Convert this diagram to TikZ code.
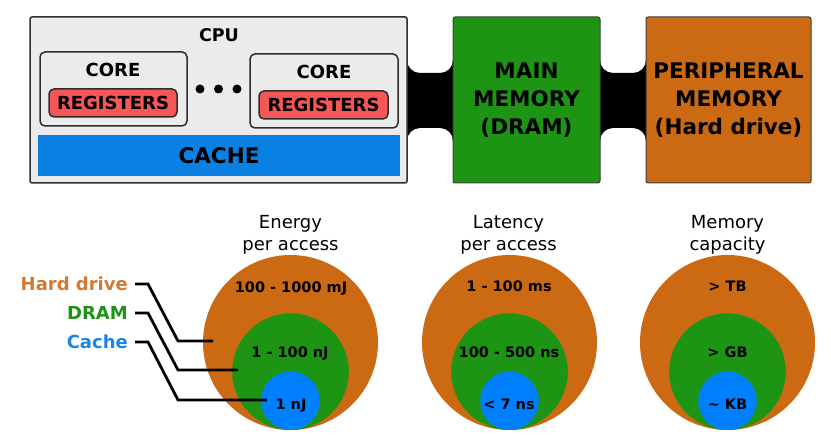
\documentclass[tikz,border=0pt]{standalone}
\usepackage{fontspec}
\setmainfont{DejaVu Sans}
\definecolor{cpugray}{HTML}{EBEBEB}
\definecolor{bord}{HTML}{2E2E2E}
\definecolor{regred}{HTML}{F55656}
\definecolor{cacheblue}{HTML}{0A80E2}
\definecolor{memgreen}{HTML}{1E9414}
\definecolor{periorange}{HTML}{CC6A14}
\definecolor{circblue}{HTML}{0080FF}
\definecolor{hdtext}{HTML}{D27A33}
\definecolor{cachetext}{HTML}{1A86E8}
\tikzset{
  bus/.style={fill=black},
  cpubox/.style={draw=bord, fill=cpugray, line width=1.5pt, rounded corners=2pt, inner sep=0pt},
  corebox/.style={draw=bord, fill=cpugray, line width=1.5pt, rounded corners=5pt, inner sep=0pt},
  regbox/.style={draw=bord, fill=regred, line width=1.5pt, rounded corners=5pt, inner sep=0pt,
     font=\fontsize{18}{22}\selectfont\bfseries},
  membox/.style={draw=black!75, line width=1pt, rounded corners=2pt, inner sep=0pt, align=center,
     font=\fontsize{21.5}{28}\selectfont\bfseries},
  lbl/.style={inner sep=0pt, font=\fontsize{18}{22}\selectfont\bfseries},
  title/.style={inner sep=0pt, align=center, font=\fontsize{18}{22}\selectfont},
  val/.style={inner sep=0pt, anchor=base, font=\fontsize{14.5}{17}\selectfont\bfseries},
  legend/.style={inner sep=0pt, anchor=east, font=\fontsize{18}{22}\selectfont\bfseries},
  leader/.style={line width=2.8pt, black},
  ring/.style={circle, inner sep=0pt, draw=none},
  dot/.style={circle, fill=black, inner sep=0pt, minimum size=9pt}
}
\begin{document}
\begin{tikzpicture}[x=1pt,y=-1pt]
\useasboundingbox (0,0) rectangle (831,443);

% buses
\fill[bus] (405,60) -- (407,60) arc[start angle=180,end angle=90,radius=13] -- ++(20,0)
  arc[start angle=90,end angle=0,radius=13] -- ++(2,0) -- ++(0,81) -- ++(-2,0)
  arc[start angle=0,end angle=-90,radius=13] -- ++(-20,0)
  arc[start angle=-90,end angle=-180,radius=13] -- ++(-2,0) -- cycle;
\fill[bus] (598,60) -- (600,60) arc[start angle=180,end angle=90,radius=13] -- ++(20,0)
  arc[start angle=90,end angle=0,radius=13] -- ++(2,0) -- ++(0,81) -- ++(-2,0)
  arc[start angle=0,end angle=-90,radius=13] -- ++(-20,0)
  arc[start angle=-90,end angle=-180,radius=13] -- ++(-2,0) -- cycle;

\node[cpubox, minimum width=377pt, minimum height=166pt] (cpu) at (218.5,100) {};
\node[lbl, font=\fontsize{17.5}{21}\selectfont\bfseries] (cpulbl) at (219,35) {CPU};

\node[corebox, minimum width=147pt, minimum height=74pt] (core1) at (113.5,89) {};
\node[lbl] (core1lbl) at (113,70.3) {CORE};
\node[regbox, minimum width=128pt, minimum height=28pt] (reg1) at (113,103) {REGISTERS};

\node[corebox, minimum width=148pt, minimum height=74pt] (core2) at (324,91) {};
\node[lbl] (core2lbl) at (324,72.3) {CORE};
\node[regbox, minimum width=129pt, minimum height=28pt] (reg2) at (323.5,105) {REGISTERS};

\node[dot] (d1) at (200,89) {};
\node[dot] (d2) at (218.5,89) {};
\node[dot] (d3) at (237,89) {};

\node[fill=cacheblue, inner sep=0pt, minimum width=362pt, minimum height=41pt,
      font=\fontsize{21.5}{26}\selectfont\bfseries] (cache) at (219,155.5) {CACHE};

\node[membox, fill=memgreen, minimum width=147pt, minimum height=166pt] (mm) at (526.5,100)
  {MAIN\\MEMORY\\(DRAM)};
\node[membox, fill=periorange, minimum width=165pt, minimum height=166pt] (pm) at (728.5,100)
  {PERIPHERAL\\MEMORY\\(Hard drive)};

% titles
\node[title] (t1) at (290.5,234.7) {Energy\\per access};
\node[title] (t2) at (508.5,234.7) {Latency\\per access};
\node[title] (t3) at (727.5,234.7) {Memory\\capacity};

% circles
\node[ring, fill=periorange, minimum size=175pt] (e1) at (290.5,342.5) {};
\node[ring, fill=memgreen, minimum size=116.6pt] (e2) at (290.5,371.7) {};
\node[ring, fill=circblue, minimum size=58.4pt] (e3) at (290.5,400.8) {};
\node[ring, fill=periorange, minimum size=175pt] (l1) at (509.5,342.5) {};
\node[ring, fill=memgreen, minimum size=116.6pt] (l2) at (509.5,371.7) {};
\node[ring, fill=circblue, minimum size=58.4pt] (l3) at (509.5,400.8) {};
\node[ring, fill=periorange, minimum size=175pt] (m1) at (727.5,342.5) {};
\node[ring, fill=memgreen, minimum size=116.6pt] (m2) at (727.5,371.7) {};
\node[ring, fill=circblue, minimum size=58.4pt] (m3) at (727.5,400.8) {};

% values
\node[val] (ev1) at (291,292.3) {100 - 1000 mJ};
\node[val] (ev2) at (290,357.7) {1 - 100 nJ};
\node[val] (ev3) at (291,410) {1 nJ};
\node[val] (lv1) at (509,292) {1 - 100 ms};
\node[val] (lv2) at (509,357.3) {100 - 500 ns};
\node[val] (lv3) at (509,409.3) {< 7 ns};
\node[val] (mv1) at (727.5,292) {> TB};
\node[val] (mv2) at (727.5,357.3) {> GB};
\node[val] (mv3) at (727.5,409.3) {\char`~{} KB};

% legend
\node[legend, text=hdtext] (hd) at (128,284) {Hard drive};
\node[legend, text=memgreen] (dr) at (128,313) {DRAM};
\node[legend, text=cachetext] (ca) at (128,342) {Cache};

\coordinate (hdend) at (213,341);
\coordinate (drend) at (238,370);
\coordinate (caend) at (267,400);

\draw[leader] ([xshift=7pt]hd.east) -- ++(13,0) -- (178,0 |- hdend) -- (hdend);
\draw[leader] ([xshift=7pt]dr.east) -- ++(13,0) -- (178,0 |- drend) -- (drend);
\draw[leader] ([xshift=7pt]ca.east) -- ++(13,0) -- (178,0 |- caend) -- (caend);
\end{tikzpicture}
\end{document}
